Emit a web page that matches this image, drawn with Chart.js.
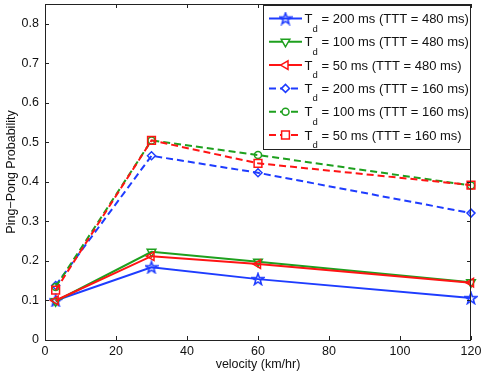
<!DOCTYPE html>
<html lang="en">
<head>
<meta charset="UTF-8">
<title>Ping-Pong Probability vs velocity</title>
<style>
  body { margin: 0; padding: 0; background: #fff; }
  #wrap { width: 485px; height: 374px; }
</style>
</head>
<body>
<div id="wrap"><canvas id="ppChart" width="485" height="374"></canvas></div>

<script src="https://cdn.jsdelivr.net/npm/chart.js"></script>
<script>
// data
const velocity = [3, 30, 60, 120];
const td200_480 = [0.100, 0.184, 0.154, 0.106];
const td100_480 = [0.098, 0.223, 0.198, 0.146];
const td50_480  = [0.100, 0.212, 0.192, 0.145];
const td200_160 = [0.138, 0.466, 0.423, 0.321];
const td100_160 = [0.134, 0.505, 0.468, 0.391];
const td50_160  = [0.126, 0.505, 0.447, 0.392];

const tdLabels  = ['200', '100', '50', '200', '100', '50'];
const tttLabels = ['480', '480', '480', '160', '160', '160'];
const xTicks = [0, 20, 40, 60, 80, 100, 120];
const yTicks = [0, 0.1, 0.2, 0.3, 0.4, 0.5, 0.6, 0.7, 0.8];

const BLUE = 'rgb(30,60,255)';
const GREEN = 'rgb(30,160,30)';
const RED = 'rgb(255,20,20)';
const FONT = '"Liberation Sans", Arial, sans-serif';

// MATLAB-like pentagram marker
function pentagram(color) {
  const c = document.createElement('canvas');
  c.width = 14; c.height = 14;
  const g = c.getContext('2d');
  g.strokeStyle = color;
  g.lineWidth = 1.6;
  g.beginPath();
  for (let i = 0; i < 10; i++) {
    const r = i % 2 === 0 ? 6 : 2.4;
    const a = -Math.PI / 2 + i * Math.PI / 5;
    const px = 7 + r * Math.cos(a), py = 7.5 + r * Math.sin(a);
    if (i === 0) g.moveTo(px, py); else g.lineTo(px, py);
  }
  g.closePath();
  g.stroke();
  return c;
}

function pts(arr) {
  return velocity.map((v, i) => ({ x: v, y: arr[i] }));
}

function series(vals, color, style, radius, rot, dashed, idx) {
  return {
    data: pts(vals),
    borderColor: color,
    backgroundColor: 'rgba(0,0,0,0)',
    borderWidth: 2,
    borderDash: dashed ? [7, 4] : [],
    pointStyle: style,
    pointRotation: rot,
    pointRadius: radius,
    pointBorderWidth: 1.5,
    pointBorderColor: color,
    pointBackgroundColor: 'rgba(0,0,0,0)',
    tension: 0,
    clip: false,
    order: 10 - idx
  };
}

const datasets = [
  series(td200_480, BLUE, pentagram(BLUE), 6, 0, false, 0),
  series(td100_480, GREEN, 'triangle', 5, 180, false, 1),
  series(td50_480, RED, 'triangle', 5, -90, false, 2),
  series(td200_160, BLUE, 'rectRot', 4, 0, true, 3),
  series(td100_160, GREEN, 'circle', 3.5, 0, true, 4),
  series(td50_160, RED, 'rect', 5.5, 0, true, 5)
];

// box, inward ticks and legend, MATLAB style
const matlabAxes = {
  id: 'matlabAxes',
  afterDraw(chart) {
    const ctx = chart.ctx;
    const a = chart.chartArea;
    const xs = chart.scales.x, ys = chart.scales.y;
    ctx.save();
    ctx.strokeStyle = '#222';
    ctx.lineWidth = 1;
    ctx.setLineDash([]);
    ctx.beginPath();
    xTicks.forEach(v => {
      const px = Math.round(xs.getPixelForValue(v)) + 0.5;
      ctx.moveTo(px, a.bottom); ctx.lineTo(px, a.bottom - 4);
      ctx.moveTo(px, a.top); ctx.lineTo(px, a.top + 4);
    });
    yTicks.forEach(v => {
      const py = Math.round(ys.getPixelForValue(v)) + 0.5;
      ctx.moveTo(a.left, py); ctx.lineTo(a.left + 4, py);
      ctx.moveTo(a.right, py); ctx.lineTo(a.right - 4, py);
    });
    ctx.stroke();
    ctx.strokeRect(Math.round(a.left) + 0.5, Math.round(a.top) + 0.5,
      Math.round(a.right - a.left) - 1, Math.round(a.bottom - a.top));

    // legend
    const lx = 263.5, ly = 5.5, lw = 207, lh = 144;
    ctx.fillStyle = '#fff';
    ctx.fillRect(lx, ly, lw, lh);
    ctx.strokeStyle = '#222';
    ctx.strokeRect(lx, ly, lw, lh);
    datasets.forEach((ds, i) => {
      const y = 18.5 + i * 23.3;
      ctx.strokeStyle = ds.borderColor;
      ctx.lineWidth = 2;
      ctx.setLineDash(ds.borderDash);
      ctx.beginPath();
      ctx.moveTo(269, y); ctx.lineTo(302, y);
      ctx.stroke();
      ctx.setLineDash([]);
      ctx.lineWidth = 1.5;
      ctx.fillStyle = '#fff';
      Chart.helpers.drawPoint(ctx, {
        pointStyle: ds.pointStyle, rotation: ds.pointRotation,
        radius: ds.pointRadius, borderWidth: 1.5
      }, 285.5, y);
      ctx.fillStyle = '#111';
      ctx.textBaseline = 'alphabetic';
      ctx.textAlign = 'left';
      ctx.font = '13px ' + FONT;
      ctx.fillText('T', 304.5, y + 4.5);
      ctx.font = '9.5px ' + FONT;
      ctx.fillText('d', 312.5, y + 13);
      ctx.font = '13px ' + FONT;
      ctx.fillText('= ' + tdLabels[i] + ' ms (TTT = ' + tttLabels[i] + ' ms)', 321.5, y + 4.5);
    });
    ctx.restore();
  }
};

new Chart(document.getElementById('ppChart'), {
  type: 'line',
  data: { datasets: datasets },
  options: {
    responsive: false,
    animation: false,
    layout: { autoPadding: false, padding: { left: 0, top: 4, right: 14, bottom: 0 } },
    plugins: { legend: { display: false }, tooltip: { enabled: false } },
    scales: {
      x: {
        type: 'linear', min: 0, max: 120,
        grid: { display: false, drawTicks: false },
        border: { display: false },
        afterBuildTicks: s => { s.ticks = xTicks.map(v => ({ value: v })); },
        afterFit: s => { s.height = 34; s.paddingLeft = 0; s.paddingRight = 0; },
        ticks: { padding: 4, color: '#111', font: { family: FONT, size: 12.5 } },
        title: { display: true, text: 'velocity (km/hr)', color: '#111',
                 font: { family: FONT, size: 12.5 }, padding: { top: 0, bottom: 2 } }
      },
      y: {
        min: 0, max: 0.85,
        grid: { display: false, drawTicks: false },
        border: { display: false },
        afterBuildTicks: s => { s.ticks = yTicks.map(v => ({ value: v })); },
        afterFit: s => { s.width = 45; s.paddingTop = 0; s.paddingBottom = 0; },
        ticks: { padding: 6, color: '#111', font: { family: FONT, size: 12.5 },
                 callback: v => String(+v.toFixed(1)) },
        title: { display: true, text: 'Ping−Pong Probability', color: '#111',
                 font: { family: FONT, size: 12.5 }, padding: { top: 4, bottom: 0 } }
      }
    }
  },
  plugins: [matlabAxes]
});
</script>
</body>
</html>
